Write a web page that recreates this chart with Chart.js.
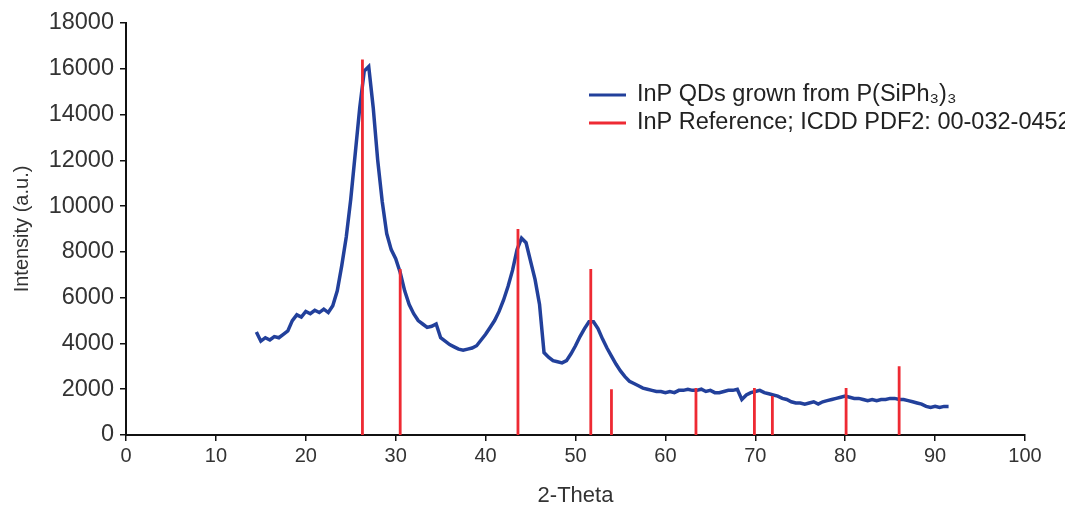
<!DOCTYPE html>
<html>
<head>
<meta charset="utf-8">
<script src="https://cdn.jsdelivr.net/npm/chart.js@4"></script>
<style>
  html, body { margin: 0; padding: 0; background: #fff; }
  #wrap { width: 1065px; height: 509px; }
</style>
</head>
<body>
<div id="wrap"><canvas id="xrd"></canvas></div>
<script>
// scan grid: 2-theta from 14.5 to 91.5 in steps of 0.5
const scanStart = 14.5;
const scanStep = 0.5;
const sampleIntensity = [
  4500, 4100, 4250, 4150, 4300, 4250, 4400, 4550, 5000, 5250,
  5150, 5400, 5300, 5450, 5350, 5500, 5350, 5650, 6300, 7400,
  8650, 10300, 12300, 14300, 15900, 16100, 14300, 12000, 10200, 8800,
  8100, 7700, 7100, 6300, 5700, 5300, 5000, 4850, 4700, 4750,
  4850, 4250, 4100, 3950, 3850, 3750, 3700, 3750, 3800, 3900,
  4150, 4400, 4700, 5000, 5400, 5900, 6500, 7200, 8100, 8600,
  8400, 7600, 6800, 5700, 3600, 3400, 3250, 3200, 3150, 3250,
  3550, 3900, 4300, 4650, 4950, 4950, 4650, 4200, 3800, 3450,
  3100, 2800, 2550, 2350, 2250, 2150, 2050, 2000, 1950, 1900,
  1900, 1850, 1900, 1850, 1950, 1950, 2000, 1950, 1950, 2000,
  1900, 1950, 1850, 1850, 1900, 1950, 1950, 2000, 1550, 1750,
  1850, 1900, 1950, 1850, 1800, 1750, 1700, 1600, 1550, 1450,
  1400, 1400, 1350, 1400, 1450, 1350, 1450, 1500, 1550, 1600,
  1650, 1700, 1650, 1600, 1600, 1550, 1500, 1550, 1500, 1550,
  1550, 1600, 1600, 1550, 1550, 1500, 1450, 1400, 1350, 1250,
  1200, 1250, 1200, 1250, 1250
];
// reference pattern (stick positions and heights)
const refPositions = [26.3, 30.5, 43.6, 51.7, 54.0, 63.4, 69.9, 71.9, 80.1, 86.0];
const refHeights   = [16400, 7250, 9000, 7250, 2000, 2050, 2050, 1700, 2050, 3000];

const xTicks = [0, 10, 20, 30, 40, 50, 60, 70, 80, 90, 100];
const yTicks = [0, 2000, 4000, 6000, 8000, 10000, 12000, 14000, 16000, 18000];

const scanPoints = sampleIntensity.map((v, i) => ({ x: scanStart + i * scanStep, y: v }));
const stickPoints = [];
refPositions.forEach((p, i) => {
  stickPoints.push({ x: p, y: 0 }, { x: p, y: refHeights[i] }, { x: p, y: null });
});

const FONT = '"Liberation Sans", Arial, sans-serif';

// legend drawn by hand so it can run off the right edge like the original
const sideLegend = {
  id: 'sideLegend',
  afterDraw(chart) {
    const ctx = chart.ctx;
    ctx.save();
    ctx.font = '23.5px ' + FONT;
    ctx.fillStyle = '#222';
    ctx.textBaseline = 'middle';
    chart.data.datasets.forEach((ds, i) => {
      const y = 95 + i * 28;
      ctx.strokeStyle = ds.borderColor;
      ctx.lineWidth = 3;
      ctx.beginPath();
      ctx.moveTo(589, y);
      ctx.lineTo(626, y);
      ctx.stroke();
      ctx.fillText(ds.label, 637, y);
    });
    ctx.restore();
  }
};

new Chart(document.getElementById('xrd'), {
  type: 'line',
  data: {
    datasets: [{
      label: 'InP QDs grown from P(SiPh\u2083)\u2083',
      data: scanPoints,
      borderColor: '#22409b',
      borderWidth: 3.5,
      pointRadius: 0,
      tension: 0,
      order: 1
    }, {
      label: 'InP Reference; ICDD PDF2: 00-032-04525',
      data: stickPoints,
      borderColor: '#ee2a33',
      borderWidth: 2.8,
      pointRadius: 0,
      spanGaps: false,
      order: 0
    }]
  },
  options: {
    responsive: true,
    maintainAspectRatio: false,
    animation: false,
    layout: { padding: { top: 23, right: 40, left: 0, bottom: 0 } },
    plugins: {
      legend: { display: false },
      tooltip: { enabled: false }
    },
    scales: {
      x: {
        type: 'linear',
        min: 0,
        max: 100,
        afterBuildTicks: s => { s.ticks = xTicks.map(v => ({ value: v })); },
        afterFit: s => { s.height = 74; },
        grid: { display: true, drawOnChartArea: false, drawTicks: true, tickLength: 6, color: '#111', lineWidth: 1.5 },
        border: { color: '#111', width: 2 },
        ticks: { color: '#333', font: { family: FONT, size: 20 }, padding: 3, maxRotation: 0 },
        title: { display: true, text: '2-Theta', color: '#333', font: { family: FONT, size: 22 }, padding: { top: 0, bottom: 0 } }
      },
      y: {
        min: 0,
        max: 18000,
        afterBuildTicks: s => { s.ticks = yTicks.map(v => ({ value: v })); },
        afterFit: s => { s.width = 126; },
        grid: { display: true, drawOnChartArea: false, drawTicks: true, tickLength: 6, color: '#111', lineWidth: 1.5 },
        border: { color: '#111', width: 2 },
        ticks: { color: '#333', font: { family: FONT, size: 23.5 }, padding: 6, callback: v => String(v) },
        title: { display: true, text: 'Intensity (a.u.)', color: '#333', font: { family: FONT, size: 20 }, padding: { top: 10, bottom: 0 } }
      }
    }
  },
  plugins: [sideLegend]
});
</script>
</body>
</html>
